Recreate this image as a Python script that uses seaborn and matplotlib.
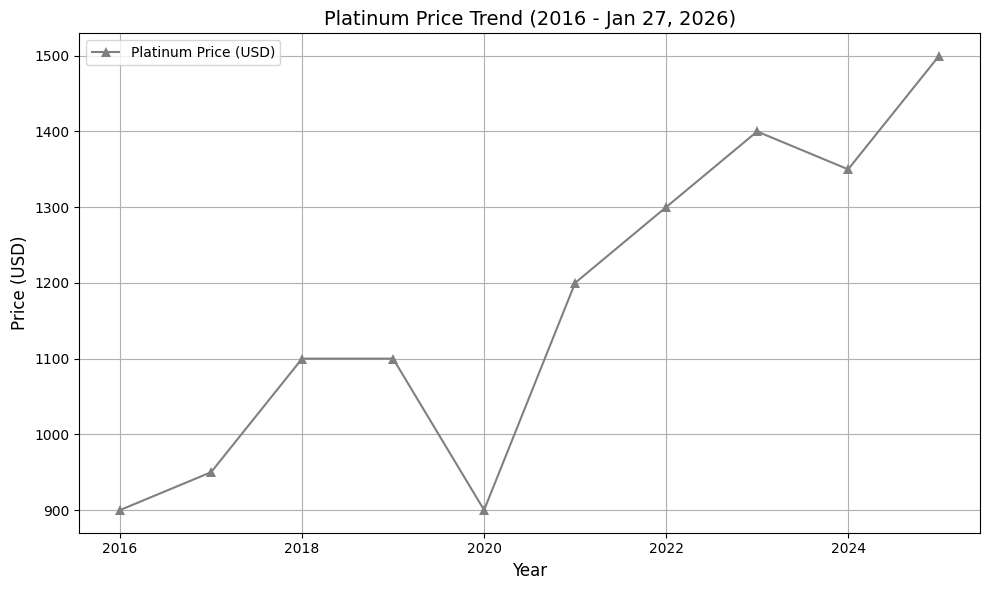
import pandas as pd
import matplotlib
matplotlib.use("Agg")
import matplotlib.pyplot as plt
import seaborn as sns

# data
years = [2016, 2017, 2018, 2019, 2020, 2021, 2022, 2023, 2024, 2025]
prices = [900, 950, 1100, 1100, 900, 1200, 1300, 1400, 1350, 1500]

df = pd.DataFrame({"Year": years, "Price": prices})

fig, ax = plt.subplots(figsize=(9.89, 5.9), dpi=100)

sns.lineplot(
    data=df,
    x="Year",
    y="Price",
    marker="^",
    markersize=7,
    markeredgewidth=0,
    color="gray",
    linewidth=1.5,
    label="Platinum Price (USD)",
    ax=ax
)

ax.set_title("Platinum Price Trend (2016 - Jan 27, 2026)", fontsize=14)
ax.set_xlabel("Year", fontsize=12)
ax.set_ylabel("Price (USD)", fontsize=12)
ax.grid(True)
ax.legend(loc="upper left")

fig.subplots_adjust(left=0.080, right=0.991, top=0.944, bottom=0.097)
plt.savefig("out.png")
plt.close()
